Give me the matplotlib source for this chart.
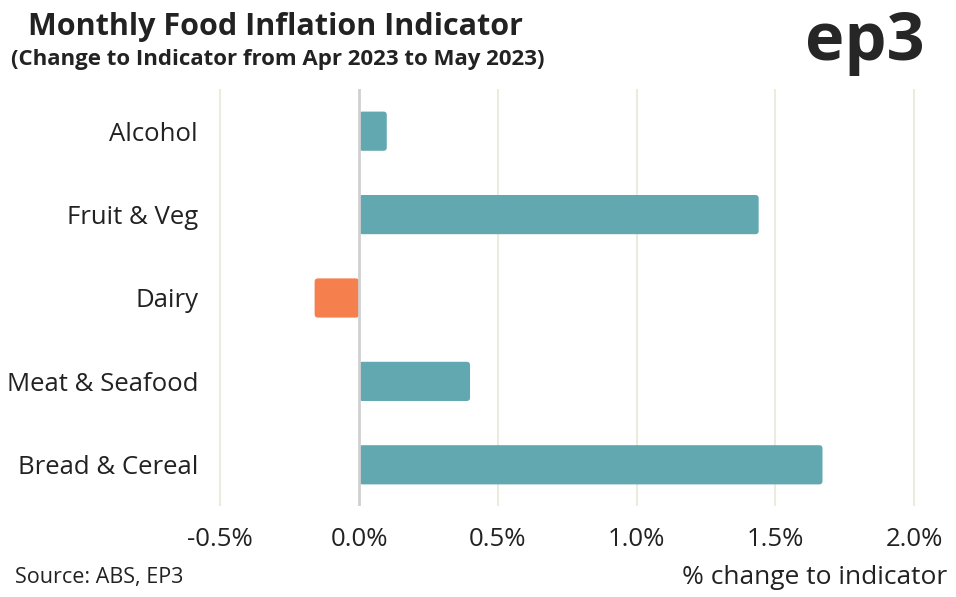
import matplotlib
matplotlib.use("Agg")
import matplotlib.pyplot as plt
from matplotlib.patches import FancyBboxPatch
from matplotlib.ticker import FuncFormatter

plt.rcParams.update({"font.family": ["Open Sans", "DejaVu Sans"]})

categories = ["Bread & Cereal", "Meat & Seafood", "Dairy", "Fruit & Veg", "Alcohol"]
values = [1.67, 0.40, -0.16, 1.44, 0.10]
ticks = [-0.5, 0.0, 0.5, 1.0, 1.5, 2.0]

TEAL, ORANGE, GRID, ZERO, INK = "#62a8b0", "#f5804e", "#ecebe0", "#d0d0d0", "#222222"

fig = plt.figure(figsize=(9.56, 5.97), dpi=100)
ax = fig.add_axes([205 / 956, 0.1516, 736 / 956, 0.6985])

colors = [TEAL if v >= 0 else ORANGE for v in values]
bars = ax.barh(range(len(categories)), values, height=0.47, color=colors, zorder=3)
# swap the square bars for slightly rounded ones
for b in bars:
    x0, y0, w, h = b.get_x(), b.get_y(), b.get_width(), b.get_height()
    if w < 0:
        x0, w = x0 + w, -w
    b.set_visible(False)
    ax.add_patch(FancyBboxPatch((x0, y0), w, h, boxstyle="round,pad=0,rounding_size=0.012",
                                mutation_aspect=3.3, color=b.get_facecolor(), lw=0, zorder=3))
ax.axvline(0, color=ZERO, lw=2, zorder=4)
for t in ticks:
    if t != 0:
        ax.axvline(t, color=GRID, lw=1.5, zorder=1)

ax.set_xlim(-0.555, 2.097)
ax.set_ylim(-0.5, 4.5)
ax.set_xticks(ticks)
ax.xaxis.set_major_formatter(FuncFormatter(lambda v, p: f"{v:.1f}%"))
ax.set_yticks(range(len(categories)))
ax.set_yticklabels(categories)
ax.tick_params(axis="both", length=0, labelsize=18.5, labelcolor=INK)
ax.tick_params(axis="x", pad=15)
ax.tick_params(axis="y", pad=5)
for s in ax.spines.values():
    s.set_visible(False)

fig.text(275 / 956, 1 - 27 / 597, "Monthly Food Inflation Indicator", ha="center", va="center",
         fontsize=22, fontweight="bold", color=INK)
fig.text(278 / 956, 1 - 60 / 597, "(Change to Indicator from Apr 2023 to May 2023)", ha="center",
         va="center", fontsize=16, fontweight="bold", color=INK)
fig.text(925 / 956, 1 - 42 / 597, "ep3", ha="right", va="center", fontsize=48,
         fontweight="bold", color="#262626")
fig.text(15 / 956, 1 - 578 / 597, "Source: ABS, EP3", ha="left", va="center", fontsize=15.5,
         color=INK)
fig.text(947 / 956, 1 - 578 / 597, "% change to indicator", ha="right", va="center",
         fontsize=19, color=INK)

fig.savefig("out.png", dpi=100, facecolor="white")
